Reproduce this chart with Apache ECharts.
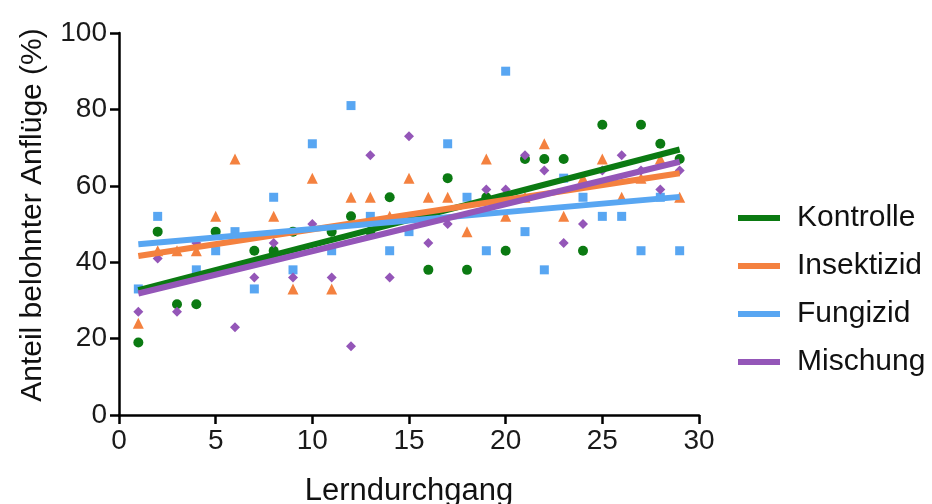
<!DOCTYPE html>
<html><head><meta charset="utf-8">
<script src="https://cdn.jsdelivr.net/npm/echarts@6/dist/echarts.min.js"></script>
<style>html,body{margin:0;padding:0;background:#fff}#c{width:932px;height:504px}</style>
</head><body><div id="c"></div>
<script>
const seriesNames = ['Kontrolle', 'Insektizid', 'Fungizid', 'Mischung'];
const kontrolle = [[1,19],[2,48],[3,29],[4,29],[5,48],[7,43],[8,43],[9,48],[11,48],[12,52],[13,48],[14,57],[16,38],[17,62],[18,38],[19,57],[20,43],[21,67],[22,67],[23,67],[24,43],[25,76],[27,76],[28,71],[29,67]];
const insektizid = [[1,24],[2,43],[3,43],[4,43],[5,52],[6,67],[8,52],[9,33],[10,62],[11,33],[12,57],[13,57],[14,52],[15,62],[16,57],[17,57],[18,48],[19,67],[20,52],[21,57],[22,71],[23,52],[24,62],[25,67],[26,57],[27,62],[28,67],[29,57]];
const fungizid = [[1,33],[2,52],[4,38],[5,43],[6,48],[7,33],[8,57],[9,38],[10,71],[11,43],[12,81],[13,52],[14,43],[15,48],[16,52],[17,71],[18,57],[19,43],[20,90],[21,48],[22,38],[23,62],[24,57],[25,52],[26,52],[27,43],[28,57],[29,43]];
const mischung = [[1,27],[2,41],[3,27],[4,45],[6,23],[7,36],[8,45],[9,36],[10,50],[11,36],[12,18],[13,68],[14,36],[15,73],[16,45],[17,50],[19,59],[20,59],[21,68],[22,64],[23,45],[24,50],[25,64],[26,68],[27,64],[28,59],[29,64]];
// regression line endpoints (x from fitX[0] to fitX[1])
const fitX = [1, 29];
const fitKontrolle = [32.7, 69.5];
const fitInsektizid = [41.6, 63.3];
const fitFungizid = [44.7, 57.1];
const fitMischung = [31.8, 66.3];
const xTicks = [0, 5, 10, 15, 20, 25, 30];
const yTicks = [0, 20, 40, 60, 80, 100];

const colors = ['#0b7a12', '#f4813f', '#58a6f2', '#9456b8'];
const symbols = ['circle', 'triangle', 'rect', 'diamond'];
const symSizes = [10, 11, 9, 10];
const pts = [kontrolle, insektizid, fungizid, mischung];
const fits = [fitKontrolle, fitInsektizid, fitFungizid, fitMischung];
const FONT = 'Liberation Sans';

const series = [];
pts.forEach((d, i) => {
  series.push({
    name: seriesNames[i] + '_pts', type: 'scatter', data: d,
    symbol: symbols[i], symbolSize: symSizes[i],
    itemStyle: { color: colors[i], opacity: 1 }, z: 2, silent: true
  });
});
fits.forEach((f, i) => {
  series.push({
    name: seriesNames[i], type: 'line',
    data: [[fitX[0], f[0]], [fitX[1], f[1]]],
    showSymbol: false, symbol: 'none',
    lineStyle: { color: colors[i], width: 6 }, itemStyle: { color: colors[i] },
    z: 5 + i
  });
});

const chart = echarts.init(document.getElementById('c'), null, { renderer: 'canvas' });
chart.setOption({
  animation: false,
  backgroundColor: '#fff',
  textStyle: { fontFamily: FONT },
  grid: { left: 119, right: 233, top: 33, bottom: 89, containLabel: false, outerBoundsMode: 'none' },
  legend: {
    data: seriesNames, orient: 'vertical', left: 733, top: 198,
    itemWidth: 42, itemHeight: 6, itemGap: 18, icon: 'rect',
    textStyle: { fontSize: 30, color: '#111', fontFamily: FONT, padding: [0, 0, 0, 12] }
  },
  xAxis: {
    type: 'value', min: xTicks[0], max: xTicks[xTicks.length - 1], interval: 5,
    name: 'Lerndurchgang', nameLocation: 'middle', nameGap: 61,
    nameTextStyle: { fontSize: 31, color: '#111', fontFamily: FONT },
    axisLine: { show: true, onZero: false, lineStyle: { color: '#000', width: 2.5 } },
    axisTick: { show: true, inside: false, length: 9, lineStyle: { color: '#000', width: 2.5 } },
    axisLabel: { fontSize: 28, color: '#1a1a1a', margin: 12, fontFamily: FONT },
    splitLine: { show: false }
  },
  yAxis: {
    type: 'value', min: yTicks[0], max: yTicks[yTicks.length - 1], interval: 20,
    name: 'Anteil belohnter Anflüge (%)', nameLocation: 'middle', nameGap: 71, nameRotate: 90,
    nameTextStyle: { fontSize: 30, color: '#111', fontFamily: FONT, padding: [0, 0, 0, 18] },
    axisLine: { show: true, onZero: false, lineStyle: { color: '#000', width: 2.5 } },
    axisTick: { show: true, inside: false, length: 9, lineStyle: { color: '#000', width: 2.5 } },
    axisLabel: { fontSize: 28, color: '#1a1a1a', margin: 12, fontFamily: FONT },
    splitLine: { show: false }
  },
  series: series
});
</script></body></html>
